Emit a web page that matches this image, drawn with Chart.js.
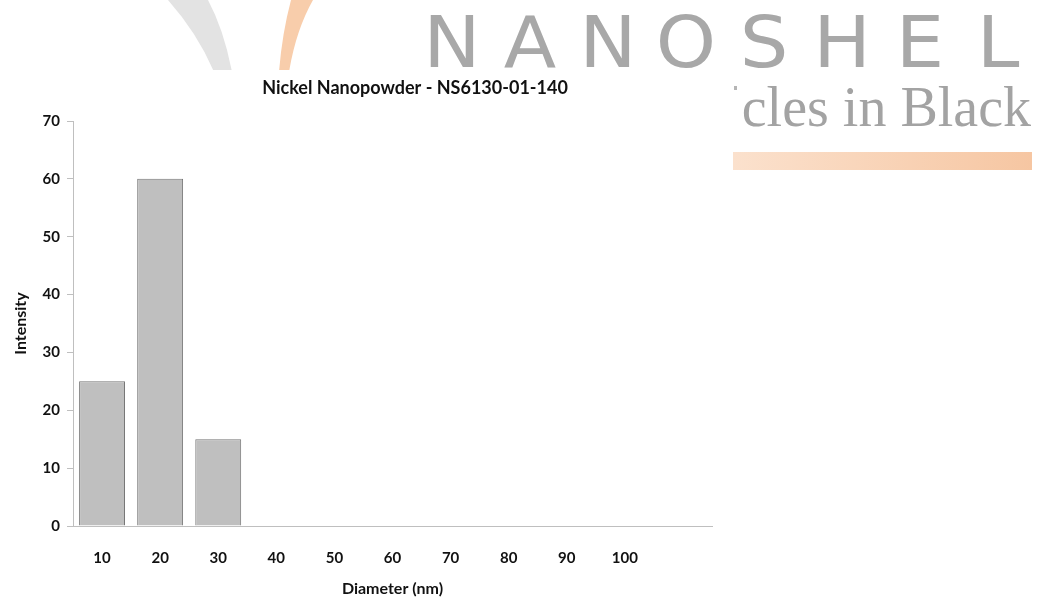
<!DOCTYPE html>
<html>
<head>
<meta charset="utf-8">
<script src="https://cdn.jsdelivr.net/npm/chart.js@4"></script>
<style>
    html, body { margin: 0; padding: 0; background: #fff; }
    #wrap { width: 1037px; height: 599px; }
</style>
</head>
<body>
<div id="wrap"><canvas id="chart" width="1037" height="599"></canvas></div>
<script>
// Particle size distribution
const diameters = ['10', '20', '30', '40', '50', '60', '70', '80', '90', '100', ''];
const intensity = [25, 60, 15, 0, 0, 0, 0, 0, 0, 0, null];
const yTicks = [0, 10, 20, 30, 40, 50, 60, 70];

const chartTitle = 'Nickel Nanopowder - NS6130-01-140';
const labelFont = 'Lato, "Open Sans", sans-serif';

// logo behind the chart, plus the chart title
const backdrop = {
    id: 'backdrop',
    beforeDraw(chart) {
        const ctx = chart.ctx;
        ctx.save();
        ctx.fillStyle = '#fff';
        ctx.fillRect(0, 0, chart.width, chart.height);

        ctx.save();
        ctx.beginPath();
        ctx.rect(0, 0, chart.width, 70);
        ctx.clip();

        // grey swoosh
        ctx.fillStyle = '#e3e3e3';
        ctx.beginPath();
        ctx.moveTo(168, 0);
        ctx.quadraticCurveTo(198, 34, 214, 72);
        ctx.lineTo(232, 72);
        ctx.quadraticCurveTo(224, 30, 208, 0);
        ctx.closePath();
        ctx.fill();

        // orange swoosh
        ctx.fillStyle = '#f8cdab';
        ctx.beginPath();
        ctx.moveTo(291, 0);
        ctx.quadraticCurveTo(282, 34, 279, 72);
        ctx.lineTo(289, 72);
        ctx.quadraticCurveTo(296, 30, 313, 0);
        ctx.closePath();
        ctx.fill();

        // NANOSHEL
        ctx.fillStyle = '#a8a8a8';
        ctx.font = '71px "DejaVu Sans", sans-serif';
        ctx.textAlign = 'center';
        ctx.textBaseline = 'alphabetic';
        'NANOSHEL'.split('').forEach((ch, i) => {
            ctx.save();
            ctx.translate(452 + i * 78, 67);
            ctx.scale(1.08, 1);
            ctx.fillText(ch, 0, 0);
            ctx.restore();
        });
        ctx.restore();

        // ...cles in Black
        ctx.save();
        ctx.beginPath();
        ctx.rect(741, 70, 296, 80);
        ctx.clip();
        ctx.fillStyle = '#a3a3a3';
        ctx.font = '56px "Liberation Serif", serif';
        ctx.textAlign = 'right';
        ctx.fillText('Particles in Black', 1031, 126);
        ctx.restore();
        ctx.fillStyle = '#b5b5b5';
        ctx.fillRect(734, 86, 3, 4);

        // orange bar
        const grad = ctx.createLinearGradient(733, 0, 1032, 0);
        grad.addColorStop(0, '#fbe1cd');
        grad.addColorStop(1, '#f6c6a2');
        ctx.fillStyle = grad;
        ctx.fillRect(733, 152, 299, 18);

        // title
        ctx.fillStyle = '#111';
        ctx.font = 'bold 18px ' + labelFont;
        ctx.textAlign = 'center';
        ctx.textBaseline = 'middle';
        ctx.fillText(chartTitle, 415, 88);
        ctx.restore();
    }
};

new Chart(document.getElementById('chart'), {
    type: 'bar',
    data: {
        labels: diameters,
        datasets: [{
            label: 'Intensity',
            data: intensity,
            backgroundColor: '#bfbfbf',
            borderColor: '#767676',
            borderWidth: 1,
            borderSkipped: 'bottom',
            barPercentage: 0.79,
            categoryPercentage: 1
        }]
    },
    options: {
        responsive: false,
        animation: false,
        layout: { padding: { left: 0, right: 325, top: 121, bottom: 0 } },
        plugins: {
            legend: { display: false },
            tooltip: { enabled: false }
        },
        scales: {
            x: {
                grid: { display: false, drawTicks: false },
                border: { display: true, color: '#bfbfbf', width: 1 },
                ticks: {
                    color: '#111',
                    padding: 23,
                    maxRotation: 0,
                    autoSkip: false,
                    font: { family: labelFont, size: 15, weight: 'bold' }
                },
                title: {
                    display: true,
                    text: 'Diameter (nm)',
                    color: '#111',
                    padding: { top: 0, bottom: 1 },
                    font: { family: labelFont, size: 16, weight: 'bold' }
                },
                afterFit(scale) { scale.height = 73; }
            },
            y: {
                min: 0,
                max: 70,
                afterBuildTicks(scale) { scale.ticks = yTicks.map(v => ({ value: v })); },
                grid: { display: true, drawOnChartArea: false, drawTicks: true, tickLength: 6, color: '#bfbfbf' },
                border: { display: true, color: '#bfbfbf', width: 1 },
                ticks: {
                    color: '#111',
                    padding: 7,
                    font: { family: labelFont, size: 15, weight: 'bold' }
                },
                title: {
                    display: true,
                    text: 'Intensity',
                    color: '#111',
                    padding: { top: 11, bottom: 0 },
                    font: { family: labelFont, size: 16, weight: 'bold' }
                },
                afterFit(scale) { scale.width = 73; }
            }
        }
    },
    plugins: [backdrop]
});
</script>
</body>
</html>
